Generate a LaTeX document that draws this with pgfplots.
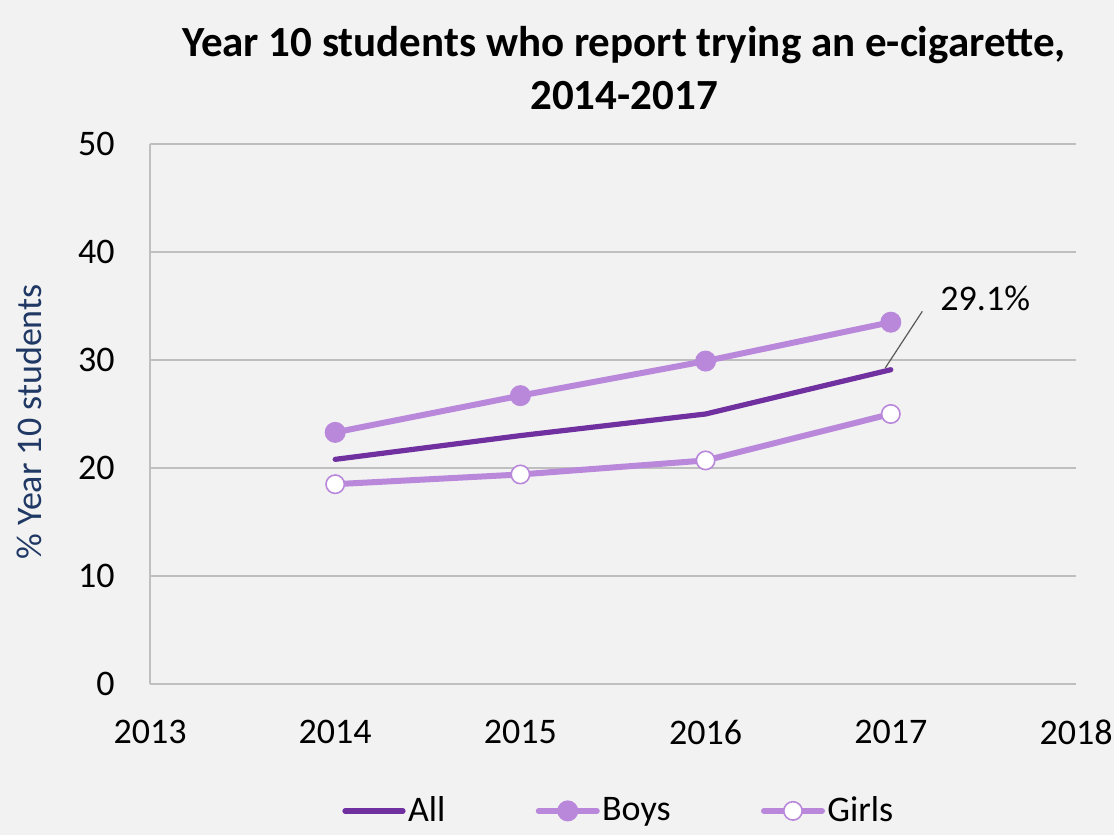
\documentclass[border=0pt]{standalone}
\usepackage{pgfplots}
\pgfplotsset{compat=1.18}
\usepackage{fontspec}
\setmainfont{Carlito}
\definecolor{bgc}{HTML}{F2F2F2}
\definecolor{gridc}{HTML}{BFBFBF}
\definecolor{allc}{HTML}{7030A0}
\definecolor{boyc}{HTML}{B988DA}
\definecolor{ylc}{HTML}{1F3864}
\begin{document}
\begin{tikzpicture}
\fill[bgc] (0,0) rectangle (557bp,417.5bp);
\begin{axis}[
  at={(75bp,75.5bp)}, anchor=south west,
  scale only axis, width=463bp, height=270bp,
  xmin=2013, xmax=2018, ymin=0, ymax=50,
  xtick={2013,2014,2015,2016,2017,2018},
  ytick={0,10,20,30,40,50},
  axis lines=left,
  axis line style={draw=gridc, line width=0.7bp, -},
  ymajorgrids,
  major grid style={draw=gridc, line width=0.7bp},
  major tick length=0pt,
  /pgf/number format/assume math mode=true,
  /pgf/number format/1000 sep={},
  tick label style={font=\fontsize{18bp}{21bp}\selectfont, inner sep=0pt},
  xticklabel style={anchor=center, yshift=-24bp},
  yticklabel style={anchor=east, xshift=-17.5bp},
  ylabel={\% Year 10 students},
  ylabel style={at={(axis description cs:-0.1305,0.485)}, anchor=center, font=\fontsize{18bp}{21bp}\selectfont, text=ylc},
  legend columns=3,
  legend style={at={(axis description cs:0.5065,-0.235)}, anchor=center, draw=none, fill=none,
    font=\fontsize{18bp}{21bp}\selectfont, nodes={inner sep=1.2bp},
    /tikz/every even column/.append style={column sep=44bp}},
  legend image code/.code={\draw[mark repeat=2,mark phase=2,#1] plot coordinates {(0bp,0bp) (14.5bp,0bp) (29bp,0bp)};},
  clip=false,
]
\addplot[allc, line width=2.6bp, line cap=round, line join=round, mark=none]
  coordinates {(2014,20.8) (2015,23.0) (2016,25.0) (2017,29.1)};
\addlegendentry{All}
\addplot[boyc, line width=3bp, line cap=round, line join=round, mark=*, mark size=5bp,
  mark options={fill=boyc, draw=boyc, line width=0.5bp}]
  coordinates {(2014,23.3) (2015,26.7) (2016,29.9) (2017,33.5)};
\addlegendentry{Boys}
\addplot[boyc, line width=3bp, line cap=round, line join=round, mark=*, mark size=4.6bp,
  mark options={fill=white, draw=boyc, line width=0.8bp}]
  coordinates {(2014,18.5) (2015,19.4) (2016,20.7) (2017,25.0)};
\addlegendentry{Girls}
\draw[draw=black!65, line width=0.6bp] (axis cs:2016.97,29.26) -- (axis cs:2017.17,34.5);
\node[font=\fontsize{18bp}{21bp}\selectfont, anchor=center, inner sep=0pt] at (axis cs:2017.51,35.7) {29.1\%};
\end{axis}
\node[font=\bfseries\fontsize{21.5bp}{26bp}\selectfont, anchor=base, inner sep=0pt] at (312bp,389bp) {Year 10 students who report trying an e-cigarette,};
\node[font=\bfseries\fontsize{21.5bp}{26bp}\selectfont, anchor=base, inner sep=0pt] at (312bp,362.5bp) {2014-2017};
\pgfresetboundingbox
\useasboundingbox (0,0) rectangle (557bp,417.5bp);
\end{tikzpicture}
\end{document}
